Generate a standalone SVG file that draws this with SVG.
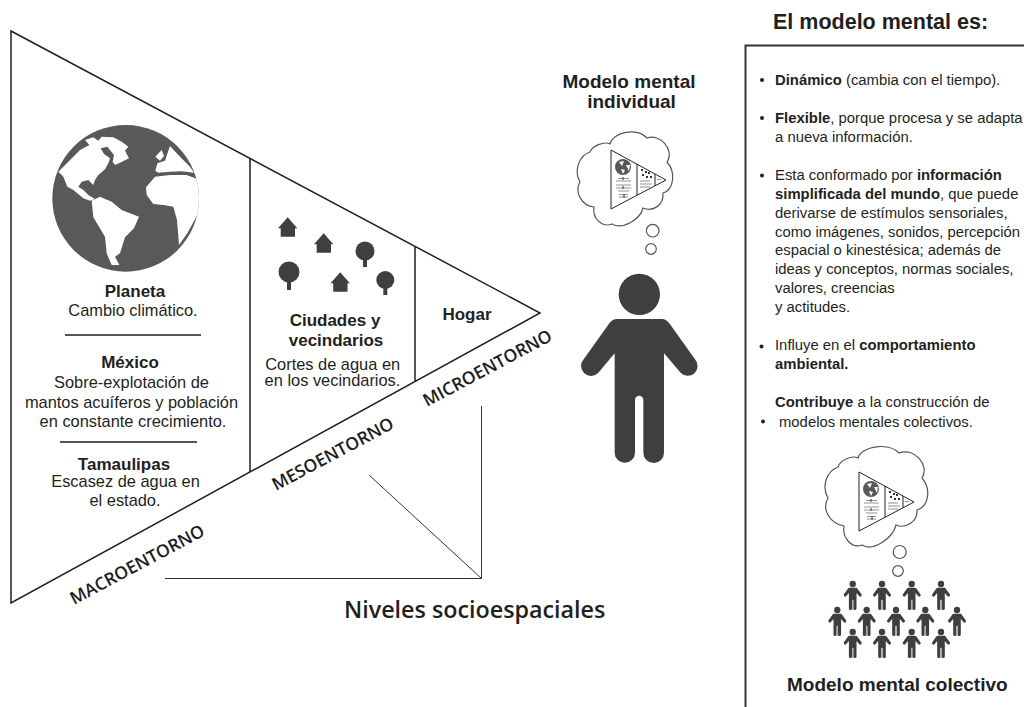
<svg xmlns="http://www.w3.org/2000/svg" width="1024" height="707" viewBox="0 0 1024 707">
<style>
text{font-family:"Liberation Sans",Arial,sans-serif;fill:#231f20}
.b{font-size:16.400px;text-anchor:middle}
.h{font-size:17px;font-weight:700;text-anchor:middle}
.s{font-size:14.850px}
.bd{font-weight:700}
.lab{font-family:"Open Sans","Noto Sans",sans-serif;font-size:17.500px;font-weight:600;fill:#1d1d1d}
.ln{stroke:#1f1f1f;stroke-width:1.500;fill:none}
.thin{stroke:#333;stroke-width:1;fill:none}
.ic{fill:#3f3f3f}
.th{fill:#fff;stroke:#555;stroke-width:1.200}
</style>
<defs>
<clipPath id="gc"><circle cx="287" cy="205" r="220"/></clipPath>
<g id="globe" transform="translate(30,130) scale(.33333)">
<circle cx="287" cy="205" r="220" fill="#58595b"/>
<g clip-path="url(#gc)" fill="#fff">
<path d="M85,125 L100,110 L130,80 L150,60 L178,45 L165,30 L190,22 L205,32 L215,20 L250,22 L275,35 L295,50 L285,62 L297,85 L270,98 L255,105 L248,95 L252,75 L232,50 L212,55 L222,72 L240,85 L235,100 L225,118 L205,135 L195,150 L190,165 L175,150 L155,155 L145,170 L160,180 L175,195 L195,207 L180,212 L160,205 L130,180 L112,170 L100,140 Z"/>
<path d="M185,212 L210,200 L245,215 L275,240 L327,260 L312,295 L285,322 L270,370 L255,380 L268,405 L245,405 L230,370 L225,320 L190,262 Z"/>
<path d="M348,172 L375,140 L420,135 L470,135 L510,150 L510,240 L472,310 L447,345 L441,270 L430,230 L400,225 L370,222 L350,195 Z"/>
<path d="M376,122 L382,100 L405,92 L420,48 L445,75 L480,110 L492,128 L455,124 L420,125 L385,128 Z"/>
<path d="M376,80 L395,60 L402,78 L390,92 Z"/>
</g>
</g>
<path id="personShape" d="M80,177 H216 Q228,177 238,190 L315,298 A27,27 0 0 1 272,338 L222,280 V578 A30,30 0 0 1 160,578 V420 A12,12 0 0 0 135,420 V578 A30,30 0 0 1 74,578 V280 L25,338 A27,27 0 0 1 -19,298 L58,190 Q68,177 80,177 Z"/>
<g id="person" class="ic"><circle cx="148" cy="103" r="62"/><use href="#personShape"/></g>
<g id="sp" transform="scale(.0515) translate(-148,-103)"><use href="#person"/><rect x="135" y="420" width="25" height="185" fill="#aaa"/></g>
<g id="mini">
<path d="M0,0 L55,30 L0,59 Z M26,14 V45 M44,24 V36" fill="#fff" stroke="#222" stroke-width="1"/>
<circle cx="12" cy="17" r="8" fill="#58595b"/>
<path d="M8,12 L13,11 L11,16 Z M10,19 L14,20 L12,24 Z M15,15 L19,15 L18,21 Z" fill="#fff"/>
<path d="M7,28.500H18M5,31H20M5,35H20M5,38H20M7,41H18M8,44.500H17M8,47H17" stroke="#777" stroke-width=".8"/>
<path d="M12,27v3M12,36v3M13,44v4" stroke="#333" stroke-width="1"/>
<path d="M30,19h2v2h-2zM34,21h2v2h-2zM37,22h2v2h-2zM31,24h2v2h-2zM35,26h2v2h-2zM39,26h2v2h-2z" fill="#333"/>
<path d="M29,31H39M29,34H41M29,37H39" stroke="#777" stroke-width=".8"/>
<path d="M46,29.500H50" stroke="#777" stroke-width=".8"/>
</g>
</defs>

<g id="connectors">
<path class="ln" d="M11,31 L540,313 L11,603 Z"/>
<path class="ln" d="M250,158 V472"/>
<path class="ln" d="M415,246 V381"/>
<path class="ln" d="M65,335 H201"/>
<path class="ln" d="M60,442 H197"/>
<path class="thin" d="M165,578.500 H481.500 V406 M369,475 L481.500,578.500"/>
</g>

<g id="macro">
<use href="#globe"/>
<text class="h" x="135" y="297">Planeta</text>
<text class="b" x="133" y="316">Cambio climático.</text>
<text class="h" x="130" y="367.500">México</text>
<text class="b" x="131.500" y="388">Sobre-explotación de</text>
<text class="b" x="131.500" y="407.500">mantos acuíferos y población</text>
<text class="b" x="133" y="426.500">en constante crecimiento.</text>
<text class="h" x="124" y="470">Tamaulipas</text>
<text class="b" x="125.500" y="487">Escasez de agua en</text>
<text class="b" x="125" y="505.500">el estado.</text>
<text class="lab" transform="translate(74,605) rotate(-28)">MACROENTORNO</text>
</g>

<g id="meso">
<g class="ic">
<path id="h" d="M287.700,217.300 L297.300,228.300 H295 V236.700 H280.700 V228.300 H278 Z"/>
<use href="#h" x="36" y="16"/>
<use href="#h" x="52.500" y="55"/>
<circle cx="365" cy="251" r="9.500"/><rect x="363" y="255" width="4" height="12"/>
<circle cx="289" cy="272" r="10.500"/><rect x="287" y="276" width="4" height="14"/>
<circle cx="385.300" cy="280" r="9"/><rect x="383.300" y="284" width="4" height="11"/>
</g>
<text class="h" x="335" y="326">Ciudades y</text>
<text class="h" x="336" y="346">vecindarios</text>
<text class="b" x="332.700" y="370">Cortes de agua en</text>
<text class="b" x="332.500" y="385.700">en los vecindarios.</text>
<text class="lab" transform="translate(276,491) rotate(-28)">MESOENTORNO</text>
</g>

<g id="micro">
<text class="h" x="467" y="320">Hogar</text>
<text class="lab" transform="translate(427,407) rotate(-28)">MICROENTORNO</text>
</g>

<g id="individual">
<text x="629" y="87.500" text-anchor="middle" class="bd" font-size="19">Modelo mental</text>
<text x="631.500" y="107.500" text-anchor="middle" class="bd" font-size="19">individual</text>
<path class="th" d="M610,144 C613,132 637,127 647,138 C660,133 675,150 667,162 C676,172 674,190 663,193 C664,206 652,212 643,208 C640,220 622,230 612,224 C602,228 592,218 594,207 C582,206 574,192 580,182 C573,170 580,155 590,152 C592,146 604,141 610,144 Z"/>
<use href="#mini" x="611" y="150"/>
<circle class="th" cx="652.700" cy="230.700" r="6.300"/>
<circle class="th" cx="651" cy="249" r="5.300"/>
<use href="#person" transform="translate(590,260) scale(.33333)"/>
</g>

<g id="panel">
<text x="773" y="29" class="bd" font-size="21.500">El modelo mental es:</text>
<path d="M1024,45.500 H745.500 V707" fill="none" stroke="#333" stroke-width="2"/>
<g fill="#222"><circle cx="762" cy="80" r="2"/><circle cx="762" cy="118" r="2"/><circle cx="762" cy="175.500" r="2"/><circle cx="761.500" cy="346.500" r="2"/><circle cx="763" cy="421.500" r="2"/></g>
<text class="s" x="775" y="84.500"><tspan class="bd">Dinámico</tspan> (cambia con el tiempo).</text>
<text class="s" x="775" y="122.500"><tspan class="bd">Flexible</tspan>, porque procesa y se adapta</text>
<text class="s" x="775" y="141.500">a nueva información.</text>
<text class="s" x="775" y="180">Esta conformado por <tspan class="bd">información</tspan></text>
<text class="s bd" x="775" y="199">simplificada del mundo<tspan font-weight="400">, que puede</tspan></text>
<text class="s" x="775" y="218">derivarse de estímulos sensoriales,</text>
<text class="s" x="775" y="236.500">como imágenes, sonidos, percepción</text>
<text class="s" x="775" y="255">espacial o kinestésica; además de</text>
<text class="s" x="775" y="274">ideas y conceptos, normas sociales,</text>
<text class="s" x="775" y="293">valores, creencias</text>
<text class="s" x="775" y="312">y actitudes.</text>
<text class="s" x="775" y="350">Influye en el <tspan class="bd">comportamiento</tspan></text>
<text class="s bd" x="775" y="369">ambiental.</text>
<text class="s" x="775" y="407"><tspan class="bd">Contribuye</tspan> a la construcción de</text>
<text class="s" x="779" y="426.500">modelos mentales colectivos.</text>
</g>

<g id="colectivo">
<path class="th" d="M858,458 C862,446 888,442 899,453 C914,447 930,465 922,478 C932,490 928,507 917,510 C918,522 905,529 896,525 C893,538 873,552 862,545 C852,549 842,538 844,526 C831,524 821,510 828,498 C821,486 827,471 838,467 C840,460 852,455 858,458 Z"/>
<use href="#mini" x="859" y="472"/>
<circle class="th" cx="899.700" cy="552" r="6.500"/>
<circle class="th" cx="898" cy="571" r="5.300"/>
<use href="#sp" x="852.700" y="584"/><use href="#sp" x="882" y="584"/><use href="#sp" x="911.700" y="584"/><use href="#sp" x="941" y="584"/>
<use href="#sp" x="837.300" y="610"/><use href="#sp" x="866.700" y="610"/><use href="#sp" x="896" y="610"/><use href="#sp" x="925.300" y="610"/><use href="#sp" x="957" y="610"/>
<use href="#sp" x="852.700" y="632"/><use href="#sp" x="882" y="632"/><use href="#sp" x="911.700" y="632"/><use href="#sp" x="941" y="632"/>
<text x="787" y="691" class="bd" font-size="19">Modelo mental colectivo</text>
</g>

<text x="344" y="618" style="font-family:'Open Sans',sans-serif;font-weight:600;font-size:23.300px">Niveles socioespaciales</text>
</svg>
